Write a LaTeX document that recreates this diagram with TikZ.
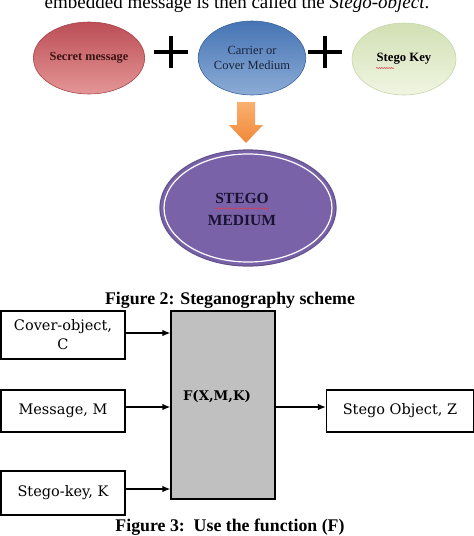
\documentclass[tikz,border=0pt]{standalone}
\usepackage{fontspec}
\setmainfont{Liberation Serif}
\newfontfamily\boxfont{DejaVu Serif}
\usetikzlibrary{shapes.geometric,arrows.meta,decorations.pathmorphing}
\definecolor{redtop}{RGB}{188,78,86}
\definecolor{redbot}{RGB}{228,150,150}
\definecolor{rededge}{RGB}{170,68,74}
\definecolor{bluetop}{RGB}{70,116,180}
\definecolor{bluebot}{RGB}{140,172,214}
\definecolor{blueedge}{RGB}{60,100,160}
\definecolor{greentop}{RGB}{210,224,180}
\definecolor{greenbot}{RGB}{240,245,226}
\definecolor{greenedge}{RGB}{200,214,170}
\definecolor{purplefill}{RGB}{122,98,168}
\definecolor{purpleedge}{RGB}{100,84,140}
\definecolor{orangetop}{RGB}{250,176,112}
\definecolor{orangebot}{RGB}{240,136,56}
\definecolor{fgray}{RGB}{192,192,192}
\definecolor{squig}{RGB}{220,60,80}
\tikzset{
  oval/.style={ellipse, inner sep=0pt, align=center},
  plusline/.style={line width=3.6pt, black},
  blk/.style={draw=black, line width=1.2pt, minimum width=124pt, inner sep=0pt, align=center, font=\boxfont\fontsize{14.5}{19}\selectfont},
  conn/.style={line width=1.3pt, -{Latex[length=8pt,width=6.5pt]}},
  figcap/.style={font=\bfseries\fontsize{17.8}{20}\selectfont},
  spell/.style={squig, line width=0.5pt, decorate, decoration={snake, amplitude=0.6pt, segment length=2.5pt}}
}
\begin{document}
\begin{tikzpicture}[x=1pt,y=-1pt]
\useasboundingbox (0,0) rectangle (474,536);
\node[anchor=base, font=\fontsize{19}{22}\selectfont] (top) at (237,8) {embedded message is then called the \textit{Stego-object}.};
% top ellipses
\node[oval, minimum width=110pt, minimum height=72pt, top color=redtop, bottom color=redbot, draw=rededge, line width=0.6pt,
  font=\bfseries\fontsize{12.3}{14}\selectfont, text={rgb,255:red,60;green,20;blue,20}] (sm) at (89,58) {Secret message};
\node[oval, minimum width=104pt, minimum height=74pt, top color=bluetop, bottom color=bluebot, draw=blueedge, line width=0.6pt,
  font=\fontsize{12.5}{15}\selectfont, text={rgb,255:red,25;green,35;blue,60}] (cm) at (252,58) {Carrier or\\Cover Medium};
\node[oval, minimum width=104pt, minimum height=72pt, top color=greentop, bottom color=greenbot, draw=greenedge, line width=0.6pt,
  font=\bfseries\fontsize{12.7}{15}\selectfont] (sk) at (404,59) {Stego Key};
\draw[spell] (376,68) -- (394,68);
% plus signs
\draw[plusline] (154,52) -- (188,52) (171,36) -- (171,68);
\draw[plusline] (308,52) -- (342,52) (325,36) -- (325,68);
% orange arrow
\shade[top color=orangetop, bottom color=orangebot] (237,102) -- (255,102) -- (255,125) -- (263,125) -- (246,143) -- (229,125) -- (237,125) -- cycle;
% stego medium
\node[oval, minimum width=176pt, minimum height=116pt, fill=purplefill, draw=purpleedge, line width=1.2pt] (sme) at (248,208) {};
\draw[white, line width=1.2pt] (sme.center) ellipse [x radius=84pt, y radius=54pt];
\node[align=center, font=\bfseries\fontsize{15.5}{22}\selectfont, text={rgb,255:red,25;green,18;blue,50}] (smt) at (242,209) {STEGO\\MEDIUM};
\draw[spell] (215,208.5) -- (269,208.5);
\node[figcap] (c2) at (230,300) {Figure 2: Steganography scheme};
% function diagram
\node[blk, minimum height=48pt] (cov) at (63,335) {Cover-object,\\C};
\node[blk, minimum height=42pt] (msg) at (63,411) {Message, M};
\node[blk, minimum height=44pt] (key) at (63,493) {Stego-key, K};
\node[draw=black, fill=fgray, line width=1.2pt, minimum width=104pt, minimum height=188pt, inner sep=0pt] (f) at (223,405) {};
\node[font=\boxfont\bfseries\fontsize{13.3}{15}\selectfont] (ft) at (217,397) {F(X,M,K)};
\node[blk, minimum width=147pt, minimum height=42pt] (so) at (400,411) {Stego Object, Z};
\draw[conn] ([yshift=2pt]cov.east) -- ([yshift=2pt]cov.east -| f.west);
\draw[conn] ([yshift=4pt]msg.east) -- ([yshift=4pt]msg.east -| f.west);
\draw[conn] ([yshift=4pt]key.east) -- ([yshift=4pt]key.east -| f.west);
\draw[conn] ([yshift=4pt]so.west -| f.east) -- ([yshift=4pt]so.west);
\node[figcap] (c3) at (230,527) {Figure 3:\ \ Use the function (F)};
\end{tikzpicture}
\end{document}
